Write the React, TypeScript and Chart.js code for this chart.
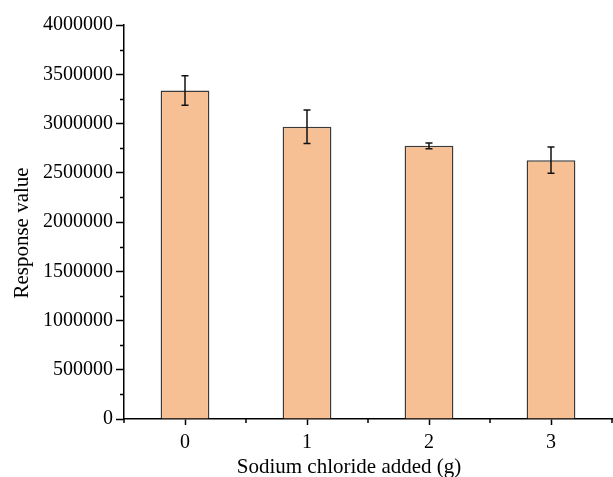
import React, { useEffect, useRef } from "react";
import { Chart, registerables } from "chart.js";

Chart.register(...registerables);

const categories = ["0", "1", "2", "3"];
const responseValues = [3335000, 2968000, 2773000, 2628000];
const errorValues = [150000, 170000, 30000, 133000];
const yMin = 0;
const yMax = 4000000;
const yStep = 500000;
const xTitle = "Sodium chloride added (g)";
const yTitle = "Response value";

const FONT = "'Liberation Serif', 'Times New Roman', serif";

const minorTicksPlugin = {
  id: "minorTicks",
  afterDraw(chart: any) {
    const { ctx } = chart;
    const x = chart.scales.x;
    const y = chart.scales.y;
    ctx.save();
    ctx.strokeStyle = "#000";
    ctx.lineWidth = 1.5;
    for (let v = yMin + yStep / 2; v < yMax; v += yStep) {
      const py = Math.round(y.getPixelForValue(v)) + 0.5;
      ctx.beginPath();
      ctx.moveTo(x.left, py);
      ctx.lineTo(x.left - 4, py);
      ctx.stroke();
    }
    const n = categories.length;
    const w = (x.right - x.left) / n;
    for (let i = 0; i <= n; i++) {
      const px = x.left + i * w;
      ctx.beginPath();
      ctx.moveTo(px, y.bottom);
      ctx.lineTo(px, y.bottom + 4);
      ctx.stroke();
    }
    // axis titles
    ctx.fillStyle = "#000";
    ctx.font = `21px ${FONT}`;
    ctx.textAlign = "center";
    ctx.textBaseline = "middle";
    const cx = (x.left + x.right) / 2 - 19;
    ctx.fillText(xTitle, cx, chart.height - 10);
    const cy = (y.top + y.bottom) / 2 + 11;
    ctx.translate(22, cy);
    ctx.rotate(-Math.PI / 2);
    ctx.fillText(yTitle, 0, 0);
    ctx.restore();
  },
};

const errorBarsPlugin = {
  id: "errorBars",
  afterDatasetsDraw(chart: any) {
    const { ctx } = chart;
    const meta = chart.getDatasetMeta(0);
    const y = chart.scales.y;
    ctx.save();
    ctx.strokeStyle = "#111";
    ctx.lineWidth = 1.5;
    meta.data.forEach((bar: any, i: number) => {
      const v = responseValues[i];
      const e = errorValues[i];
      const px = bar.x;
      const top = y.getPixelForValue(v + e);
      const bot = y.getPixelForValue(v - e);
      const cap = 3.5;
      ctx.beginPath();
      ctx.moveTo(px, top);
      ctx.lineTo(px, bot);
      ctx.moveTo(px - cap, top);
      ctx.lineTo(px + cap, top);
      ctx.moveTo(px - cap, bot);
      ctx.lineTo(px + cap, bot);
      ctx.stroke();
    });
    ctx.restore();
  },
};

export default function App() {
  const ref = useRef<HTMLCanvasElement>(null);
  useEffect(() => {
    if (!ref.current) return;
    const chart = new Chart(ref.current, {
      type: "bar",
      data: {
        labels: categories,
        datasets: [
          {
            data: responseValues,
            backgroundColor: "rgb(247,192,148)",
            borderColor: "#3a3a3a",
            borderWidth: 1.5,
            barPercentage: 1,
            categoryPercentage: 0.4,
          },
        ],
      },
      options: {
        animation: false,
        responsive: false,
        maintainAspectRatio: false,
        layout: { padding: { top: 25, right: 1, left: 0, bottom: 0 } },
        plugins: { legend: { display: false }, tooltip: { enabled: false } },
        scales: {
          x: {
            offset: true,
            grid: {
              offset: false,
              drawOnChartArea: false,
              drawTicks: true,
              tickLength: 6,
              tickColor: "#000",
              tickWidth: 1.5,
            },
            border: { color: "#000", width: 1.5 },
            ticks: {
              color: "#000",
              font: { family: FONT, size: 20, lineHeight: 1 },
              padding: 8,
              maxRotation: 0,
            },
            afterFit(scale: any) {
              scale.height = 58;
            },
          },
          y: {
            min: yMin,
            max: yMax,
            grid: {
              drawOnChartArea: false,
              drawTicks: true,
              tickLength: 8,
              tickColor: "#000",
              tickWidth: 1.5,
            },
            border: { color: "#000", width: 1.5 },
            ticks: {
              stepSize: yStep,
              color: "#000",
              font: { family: FONT, size: 20, lineHeight: 1 },
              padding: 3,
              callback: (v: any) => String(v),
            },
            afterFit(scale: any) {
              scale.width = 124;
            },
          },
        },
      },
      plugins: [minorTicksPlugin, errorBarsPlugin],
    });
    return () => chart.destroy();
  }, []);
  return (
    <div style={{ position: "fixed", left: 0, top: 0, width: 613, height: 477, background: "#fff" }}>
      <canvas ref={ref} width={613} height={477} style={{ display: "block" }} />
    </div>
  );
}
